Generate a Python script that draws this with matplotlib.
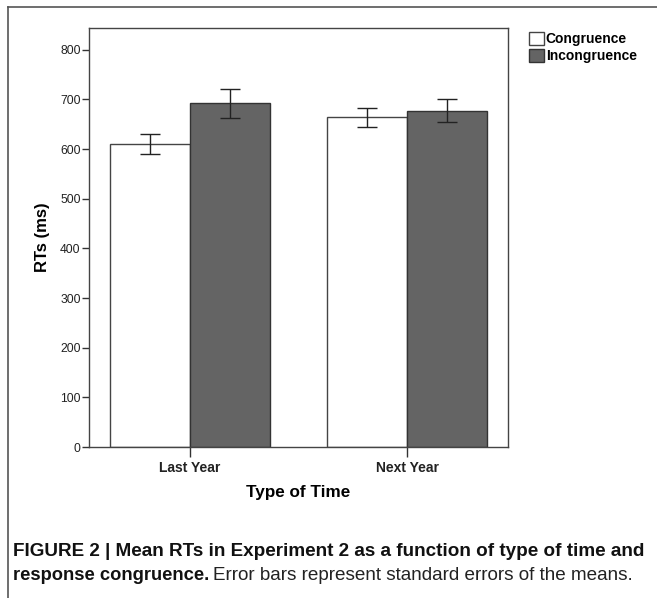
import matplotlib
matplotlib.use("Agg")
import matplotlib.pyplot as plt
from matplotlib.lines import Line2D
from matplotlib.patches import Patch
import numpy as np

categories = ["Last Year", "Next Year"]
series_names = ["Congruence", "Incongruence"]
congruence = [611, 664]
incongruence = [692, 677]
congruence_se = [20, 19]
incongruence_se = [30, 23]
yticks = [0, 100, 200, 300, 400, 500, 600, 700, 800]

W, H = 657, 598
fig = plt.figure(figsize=(W / 100, H / 100), dpi=100)
fig.patch.set_facecolor("white")

def fx(px):
    return px / W

def fy(py):
    return 1 - py / H

# outer frame lines
frame_col = "#555555"
fig.add_artist(Line2D([fx(8), fx(8)], [fy(7), fy(598)], color=frame_col, lw=1.2))
fig.add_artist(Line2D([fx(8), fx(657)], [fy(7), fy(7)], color=frame_col, lw=1.2))

ax_l, ax_t, ax_r, ax_b = 89, 28, 508, 447
ax = fig.add_axes([fx(ax_l), fy(ax_b), fx(ax_r - ax_l), (ax_b - ax_t) / H])

x = np.arange(len(categories))
bw = 0.369
ax.bar(x - bw / 2, congruence, width=bw, color="white", edgecolor="#444444", linewidth=1.0, zorder=2)
ax.bar(x + bw / 2, incongruence, width=bw, color="#646464", edgecolor="#333333", linewidth=1.0, zorder=2)
ax.errorbar(x - bw / 2, congruence, yerr=congruence_se, fmt="none", ecolor="#222222", elinewidth=1.0, capsize=7.5, capthick=1.0, zorder=3)
ax.errorbar(x + bw / 2, incongruence, yerr=incongruence_se, fmt="none", ecolor="#222222", elinewidth=1.0, capsize=7.5, capthick=1.0, zorder=3)

ax.set_xlim(-0.465, 1.465)
ax.set_ylim(0, 844)
ax.set_yticks(yticks)
ax.set_yticklabels([str(v) for v in yticks], fontsize=8.7, color="#222222", family="Liberation Sans")
ax.set_xticks(x)
ax.set_xticklabels(categories, fontsize=10, fontweight="bold", color="#222222", family="Liberation Sans")
ax.tick_params(axis="y", direction="out", length=5, width=1, color="#333333", pad=1)
ax.tick_params(axis="x", direction="out", length=7, width=1, color="#333333", pad=3)
for s in ax.spines.values():
    s.set_color("#444444")
    s.set_linewidth(1.0)

ax.set_ylabel("RTs (ms)", fontsize=12, fontweight="bold", family="Liberation Sans", labelpad=0)
ax.yaxis.set_label_coords((43 - ax_l) / (ax_r - ax_l), 0.5)
ax.set_xlabel("Type of Time", fontsize=12.3, fontweight="bold", family="Liberation Sans", labelpad=0)
ax.xaxis.set_label_coords(0.5, -(492 - ax_b) / (ax_b - ax_t))
ax.xaxis.label.set_va("center")
ax.yaxis.label.set_va("center")

handles = [Patch(facecolor="white", edgecolor="#444444", lw=1.0),
           Patch(facecolor="#646464", edgecolor="#333333", lw=1.0)]
leg = fig.legend(handles, series_names, loc="upper left", bbox_to_anchor=(fx(529), fy(32)),
                 frameon=False, handlelength=1.05, handleheight=1.05, handletextpad=0.15,
                 labelspacing=0.22, borderpad=0, borderaxespad=0,
                 prop={"family": "Liberation Sans", "weight": "bold", "size": 10})

cap_font = ["Liberation Sans Narrow", "Liberation Sans"]
fig.text(fx(13), fy(551), "FIGURE 2 | Mean RTs in Experiment 2 as a function of type of time and",
         fontsize=13.6, fontweight="bold", family=cap_font, va="center", ha="left", color="#111111")
t1 = fig.text(fx(13), fy(575), "response congruence.", fontsize=13.2, fontweight="bold",
              family=cap_font, va="center", ha="left", color="#111111")
fig.canvas.draw()
bb = t1.get_window_extent()
fig.text((bb.x1 + 4) / W, fy(575), "Error bars represent standard errors of the means.",
         fontsize=13.6, family=cap_font, va="center", ha="left", color="#222222")

fig.savefig("out.png", dpi=100)
